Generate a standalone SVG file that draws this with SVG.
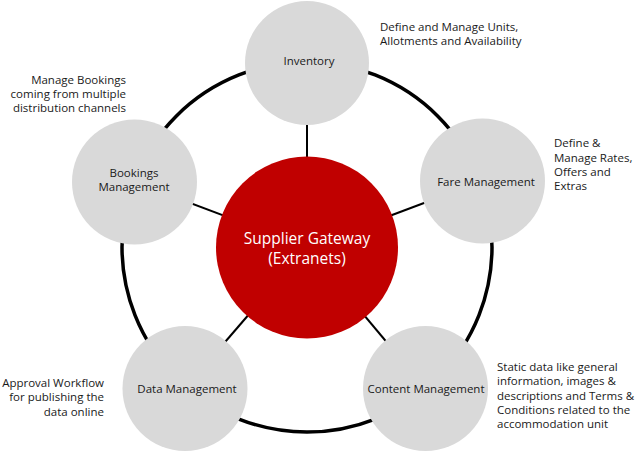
<svg xmlns="http://www.w3.org/2000/svg" width="635" height="452" viewBox="0 0 635 452">
<style>
.sat{fill:#d9d9d9}
.lbl{font-family:"Open Sans","Noto Sans",sans-serif;font-size:11.5px;fill:#1a1a1a;text-anchor:middle}
.note{font-family:"Open Sans","Noto Sans",sans-serif;font-size:11.5px;fill:#1a1a1a}
.r{text-anchor:end}
.ring{fill:none;stroke:#000;stroke-width:3.5}
.spoke{stroke:#000;stroke-width:2}
.ctr{font-family:"Open Sans","Noto Sans",sans-serif;font-size:15.5px;fill:#fff;text-anchor:middle}
</style>
<rect width="635" height="452" fill="#fff"/>
<g id="connectors">
<circle class="ring" cx="307" cy="247" r="185"/>
<line class="spoke" x1="307" y1="247" x2="307" y2="63"/>
<line class="spoke" x1="307" y1="247" x2="482.5" y2="181"/>
<line class="spoke" x1="307" y1="247" x2="425.5" y2="388.5"/>
<line class="spoke" x1="307" y1="247" x2="185" y2="388.5"/>
<line class="spoke" x1="307" y1="247" x2="134.5" y2="182"/>
</g>
<g id="inventory">
<circle class="sat" cx="307" cy="63" r="62"/>
<text class="lbl" x="309" y="65">Inventory</text>
</g>
<g id="fare-management">
<circle class="sat" cx="482.5" cy="181" r="62.5"/>
<text class="lbl" x="486" y="186">Fare Management</text>
</g>
<g id="content-management">
<circle class="sat" cx="425.5" cy="388.5" r="62.5"/>
<text class="lbl" x="426" y="393">Content Management</text>
</g>
<g id="data-management">
<circle class="sat" cx="185" cy="388.5" r="62.5"/>
<text class="lbl" x="187" y="393">Data Management</text>
</g>
<g id="bookings-management">
<circle class="sat" cx="134.5" cy="182" r="62.5"/>
<text class="lbl" x="134" y="177">Bookings</text>
<text class="lbl" x="134" y="191">Management</text>
</g>
<g id="supplier-gateway">
<circle cx="307" cy="247.5" r="91" fill="#c00000"/>
<text class="ctr" x="307" y="244">Supplier Gateway</text>
<text class="ctr" x="307" y="264">(Extranets)</text>
</g>
<g id="notes">
<text class="note r" x="126" y="84">Manage Bookings</text>
<text class="note r" x="126" y="98">coming from multiple</text>
<text class="note r" x="126" y="112">distribution channels</text>
<text class="note" x="380" y="31">Define and Manage Units,</text>
<text class="note" x="380" y="45">Allotments and Availability</text>
<text class="note" x="554" y="147">Define &amp;</text>
<text class="note" x="554" y="162">Manage Rates,</text>
<text class="note" x="554" y="176">Offers and</text>
<text class="note" x="554" y="190">Extras</text>
<text class="note r" x="104" y="387">Approval Workflow</text>
<text class="note r" x="104" y="401">for publishing the</text>
<text class="note r" x="104" y="416">data online</text>
<text class="note" x="497" y="371">Static data like general</text>
<text class="note" x="497" y="385">information, images &amp;</text>
<text class="note" x="497" y="400">descriptions and Terms &amp;</text>
<text class="note" x="497" y="414">Conditions related to the</text>
<text class="note" x="497" y="428">accommodation unit</text>
</g>
</svg>
